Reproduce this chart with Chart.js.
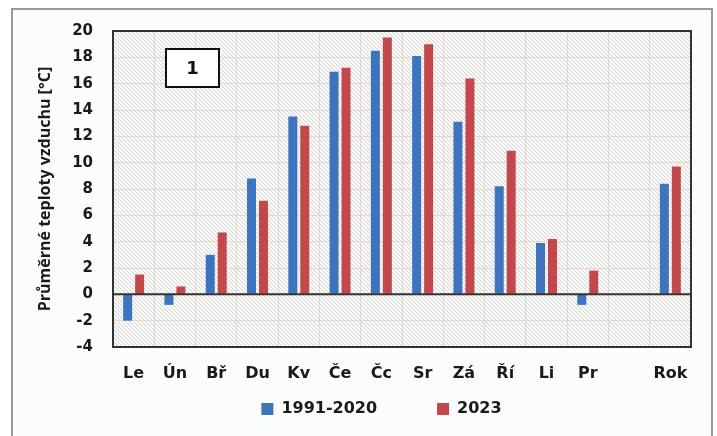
<!DOCTYPE html>
<html>
<head>
<meta charset="utf-8">
<script src="https://cdn.jsdelivr.net/npm/chart.js@4/dist/chart.umd.min.js"></script>
<style>
    html, body { margin: 0; padding: 0; background: #ffffff; }
    #wrap { width: 717px; height: 436px; }
</style>
</head>
<body>
<div id="wrap"><canvas id="tempChart" width="717" height="436"></canvas></div>
<script>
const months = ["Le", "Ún", "Bř", "Du", "Kv", "Če", "Čc", "Sr", "Zá", "Ří", "Li", "Pr", "", "Rok"];
const normal = [-2.0, -0.8, 3.0, 8.8, 13.5, 16.9, 18.5, 18.1, 13.1, 8.2, 3.9, -0.8, null, 8.4];
const year2023 = [1.5, 0.6, 4.7, 7.1, 12.8, 17.2, 19.5, 19.0, 16.4, 10.9, 4.2, 1.8, null, 9.7];
const yTicks = [-4, -2, 0, 2, 4, 6, 8, 10, 12, 14, 16, 18, 20];

const FONT = "'DejaVu Sans', sans-serif";
const ctx = document.getElementById("tempChart").getContext("2d");

/* šrafované pozadí grafu */
function makeHatch() {
    const c = document.createElement("canvas");
    c.width = 4;
    c.height = 4;
    const h = c.getContext("2d");
    h.fillStyle = "#f9f9f8";
    h.fillRect(0, 0, 4, 4);
    h.strokeStyle = "#d4d4d3";
    h.lineWidth = 1;
    h.beginPath();
    h.moveTo(0, 0); h.lineTo(4, 4);
    h.moveTo(-2, 2); h.lineTo(2, 6);
    h.moveTo(2, -2); h.lineTo(6, 2);
    h.stroke();
    return ctx.createPattern(c, "repeat");
}
const hatch = makeHatch();

const framePlugin = {
    id: "frame",
    beforeDraw(chart) {
        const c = chart.ctx;
        const a = chart.chartArea;
        c.save();
        c.fillStyle = "#fbfcfc";
        c.fillRect(13, 10, 698, 430);
        c.strokeStyle = "#9a9a9a";
        c.lineWidth = 2;
        c.strokeRect(12, 9, 700, 440);
        c.fillStyle = hatch;
        c.fillRect(a.left, a.top, a.right - a.left, a.bottom - a.top);
        c.restore();
    },
    afterLayout(chart) {
        // legenda je v originále výš a trochu doprava
        const lg = chart.legend;
        lg.left += 21;
        lg.right += 21;
        lg.top -= 48;
    },
    afterDatasetsDraw(chart) {
        const c = chart.ctx;
        const a = chart.chartArea;
        const y = chart.scales.y;
        c.save();
        c.strokeStyle = "#333333";
        c.lineWidth = 2;
        c.beginPath();
        c.moveTo(a.left, y.getPixelForValue(0));
        c.lineTo(a.right, y.getPixelForValue(0));
        c.stroke();
        c.strokeRect(a.left, a.top, a.right - a.left, a.bottom - a.top);
        // rámeček s číslem
        c.fillStyle = "#ffffff";
        c.fillRect(a.left + 53, a.top + 18, 53, 38);
        c.strokeStyle = "#111111";
        c.strokeRect(a.left + 53, a.top + 18, 53, 38);
        c.fillStyle = "#111111";
        c.font = "bold 18px " + FONT;
        c.textAlign = "center";
        c.textBaseline = "middle";
        c.fillText("1", a.left + 79.5, a.top + 38);
        c.restore();
    }
};

new Chart(ctx, {
    type: "bar",
    data: {
        labels: months,
        datasets: [{
            label: "1991-2020",
            data: normal,
            backgroundColor: "#3e74bd",
            categoryPercentage: 0.58,
            barPercentage: 0.75
        }, {
            label: "2023",
            data: year2023,
            backgroundColor: "#c3484b",
            categoryPercentage: 0.58,
            barPercentage: 0.75
        }]
    },
    options: {
        responsive: false,
        animation: false,
        layout: {
            padding: { left: 30, top: 31, right: 26, bottom: 0 }
        },
        plugins: {
            tooltip: { enabled: false },
            legend: {
                position: "bottom",
                maxHeight: 47,
                labels: {
                    font: { family: FONT, size: 16, weight: "bold" },
                    color: "#1a1a1a",
                    boxWidth: 12,
                    boxHeight: 12,
                    padding: 60
                }
            }
        },
        scales: {
            x: {
                afterFit(scale) { scale.height = 42; },
                grid: {
                    offset: true,
                    color: "#e3d7cf",
                    drawTicks: false
                },
                border: { display: false },
                ticks: {
                    padding: 17,
                    color: "#1a1a1a",
                    font: { family: FONT, size: 16, weight: "bold" },
                    maxRotation: 0,
                    autoSkip: false
                }
            },
            y: {
                min: -4,
                max: 20,
                afterFit(scale) { scale.width = 83; },
                afterBuildTicks(scale) {
                    scale.ticks = yTicks.map(v => ({ value: v }));
                },
                grid: {
                    color: "#e3d7cf",
                    drawTicks: false
                },
                border: { display: false },
                ticks: {
                    padding: 20,
                    color: "#1a1a1a",
                    font: { family: FONT, size: 15, weight: "bold" }
                },
                title: {
                    display: true,
                    text: "Průměrné teploty vzduchu [°C]",
                    color: "#1a1a1a",
                    font: { family: "'Open Sans', sans-serif", size: 16, weight: "bold" },
                    padding: { top: 6, bottom: 0 }
                }
            }
        }
    },
    plugins: [framePlugin]
});
</script>
</body>
</html>
